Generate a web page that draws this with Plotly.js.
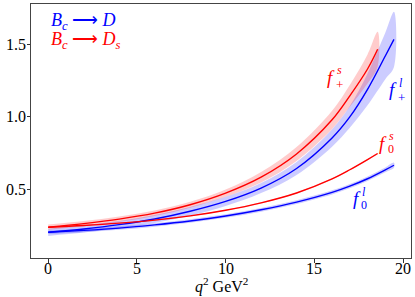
<!DOCTYPE html>
<html><head><meta charset="utf-8">
<script src="https://cdn.plot.ly/plotly-3.0.1.min.js"></script>
<style>html,body{margin:0;padding:0;background:#fff}#c{width:415px;height:297px}</style>
</head><body><div id="c"></div>
<script>
// q^2 sample points (GeV^2)
const qD  = [0, 2, 4, 6, 8, 10, 12, 14, 16, 17, 18, 19, 19.49];
const qDs = [0, 2, 4, 6, 8, 10, 12, 14, 16, 17, 18, 18.57];

// B_c -> D  (light)
const fPlusL  = [0.205, 0.228, 0.258, 0.297, 0.35, 0.418, 0.51, 0.645, 0.855, 1.0, 1.19, 1.42, 1.534];
const fPlusLerr = [0.025, 0.025, 0.025, 0.027, 0.03, 0.032, 0.035, 0.045, 0.06, 0.075, 0.11, 0.16, 0.19];
const fZeroL  = [0.205, 0.218, 0.234, 0.256, 0.283, 0.317, 0.36, 0.413, 0.48, 0.523, 0.574, 0.635, 0.667];
const fZeroLerr = [0.012, 0.012, 0.012, 0.012, 0.012, 0.012, 0.013, 0.013, 0.014, 0.015, 0.016, 0.017, 0.018];

// B_c -> D_s (strange)
const fPlusS  = [0.24, 0.265, 0.296, 0.337, 0.395, 0.475, 0.585, 0.745, 0.98, 1.145, 1.33, 1.466];
const fPlusSerr = [0.018, 0.018, 0.018, 0.019, 0.02, 0.025, 0.036, 0.048, 0.063, 0.075, 0.1, 0.12];
const fZeroS  = [0.24, 0.252, 0.268, 0.289, 0.318, 0.357, 0.408, 0.476, 0.573, 0.636, 0.706, 0.748];
const fZeroSerr = [0.004, 0.004, 0.004, 0.004, 0.004, 0.004, 0.004, 0.004, 0.004, 0.004, 0.004, 0.004];

const xTicks = [0, 5, 10, 15, 20];
const xTickText = ['0', '5', '10', '15', '20'];
const yTicks = [0.5, 1.0, 1.5];
const yTickText = ['0.5', '1.0', '1.5'];

const BLUE = 'rgb(0,0,255)', RED = 'rgb(255,0,0)';
const BLUEF = 'rgba(0,0,255,0.2)', REDF = 'rgba(255,0,0,0.2)';

function band(q, v, e, fill) {
  const up = v.map((a, i) => a + e[i]);
  const lo = v.map((a, i) => a - e[i]);
  return {x: q.concat(q.slice().reverse()), y: up.concat(lo.slice().reverse()),
    type: 'scatter', mode: 'lines', fill: 'toself', fillcolor: fill,
    line: {width: 0, shape: 'spline', smoothing: 1}, hoverinfo: 'skip', showlegend: false};
}
function line(q, v, c) {
  return {x: q, y: v, type: 'scatter', mode: 'lines',
    line: {color: c, width: 1.4, shape: 'spline', smoothing: 1}, showlegend: false};
}

const traces = [
  band(qD, fPlusL, fPlusLerr, BLUEF),
  band(qDs, fPlusS, fPlusSerr, REDF),
  band(qD, fZeroL, fZeroLerr, BLUEF),
  band(qDs, fZeroS, fZeroSerr, REDF),
  line(qD, fPlusL, BLUE),
  line(qDs, fPlusS, RED),
  line(qD, fZeroL, BLUE),
  line(qDs, fZeroS, RED)
];

// plot area in pixels
const L = 31, R = 411, T = 4, B = 258;
function px(x, y) { return {x: (x - L) / (R - L), y: (B - y) / (B - T)}; }
const SERIF = 'serif';
function ann(text, x, y, size, color, anchor) {
  const p = px(x, y);
  return {text: text, xref: 'paper', yref: 'paper', x: p.x, y: p.y, showarrow: false,
    xanchor: anchor || 'center', yanchor: 'middle', font: {family: SERIF, size: size, color: color}};
}

const annotations = [
  ann('<i>B</i><sub><i>c</i></sub> ⟶ <i>D</i>', 49, 22, 18, BLUE, 'left'),
  ann('<i>B</i><sub><i>c</i></sub> ⟶ <i>D</i><sub><i>s</i></sub>', 49, 41, 18, RED, 'left'),
  // f_+^s
  ann('<i>f</i>', 331, 77, 19, RED), ann('<i>s</i>', 339, 70, 12, RED), ann('+', 339, 84, 13, RED),
  // f_+^l
  ann('<i>f</i>', 393, 90, 19, BLUE), ann('<i>l</i>', 401, 83, 12, BLUE), ann('+', 401, 97, 13, BLUE),
  // f_0^s
  ann('<i>f</i>', 383, 143, 19, RED), ann('<i>s</i>', 391, 136, 12, RED), ann('0', 391, 149, 12, RED),
  // f_0^l
  ann('<i>f</i>', 357, 198, 19, BLUE), ann('<i>l</i>', 364, 192, 12, BLUE), ann('0', 364, 205, 12, BLUE),
  // x-axis title
  ann('<i>q</i><sup>2</sup> GeV<sup>2</sup>', 221, 285, 16, '#000')
];
// tick labels drawn as serif text at the axis tick values
xTicks.forEach((v, i) => annotations.push({text: xTickText[i], xref: 'x', yref: 'paper', x: v,
  y: px(0, 268).y, showarrow: false, xanchor: 'center', yanchor: 'middle',
  font: {family: SERIF, size: 16, color: '#000'}}));
yTicks.forEach((v, i) => annotations.push({text: yTickText[i], xref: 'paper', yref: 'y',
  x: px(28, 0).x, y: v, showarrow: false, xanchor: 'right', yanchor: 'middle',
  font: {family: SERIF, size: 16, color: '#000'}}));

const layout = {
  width: 415, height: 297,
  margin: {l: L, r: 415 - R, t: T, b: 297 - B},
  paper_bgcolor: '#fff', plot_bgcolor: '#fff',
  font: {family: SERIF, size: 16, color: '#000'},
  xaxis: {range: [-0.97, 20.45], tickvals: xTicks, showticklabels: false, ticks: 'outside', ticklen: 3.5, tickwidth: 0.8,
    tickcolor: '#000', showgrid: false, zeroline: false, showline: true, linecolor: '#444',
    linewidth: 1, mirror: true},
  yaxis: {range: [0.028, 1.778], tickvals: yTicks, showticklabels: false, ticks: 'outside', ticklen: 3.5,
    tickwidth: 0.8, tickcolor: '#000', showgrid: false, zeroline: false, showline: true,
    linecolor: '#444', linewidth: 1, mirror: true},
  annotations: annotations,
  showlegend: false
};

Plotly.newPlot('c', traces, layout, {displayModeBar: false, staticPlot: true});
</script></body></html>
